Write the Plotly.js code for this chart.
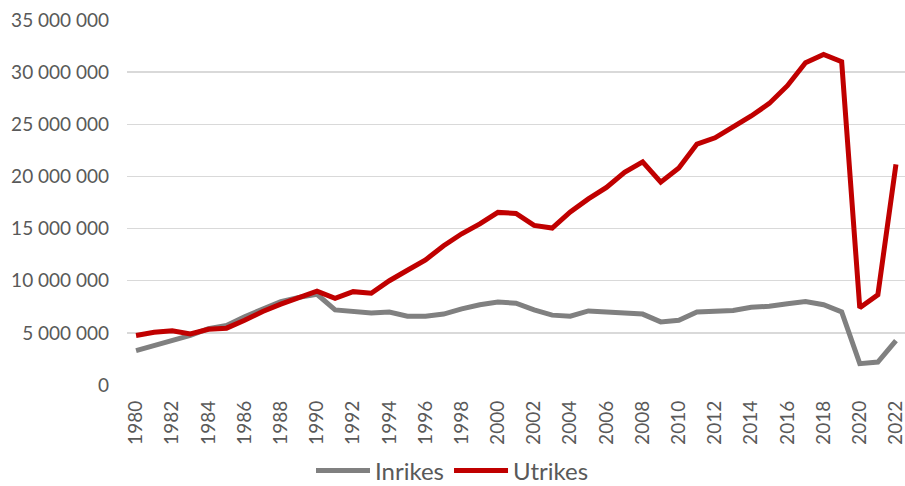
<!DOCTYPE html>
<html>
<head>
<meta charset="utf-8">
<script src="https://cdn.plot.ly/plotly-3.0.1.min.js"></script>
<style>html,body{margin:0;padding:0;background:#fff;}#chart{width:905px;height:486px;}</style>
</head>
<body>
<div id="chart"></div>
<script>
const years = [1980,1981,1982,1983,1984,1985,1986,1987,1988,1989,1990,1991,1992,1993,1994,1995,1996,1997,1998,1999,2000,2001,2002,2003,2004,2005,2006,2007,2008,2009,2010,2011,2012,2013,2014,2015,2016,2017,2018,2019,2020,2021,2022];
const inrikes = [3300000,3800000,4300000,4750000,5400000,5700000,6550000,7300000,8000000,8400000,8700000,7200000,7100000,6900000,7000000,6600000,6600000,6800000,7300000,7700000,7950000,7850000,7200000,6700000,6600000,7100000,7000000,6900000,6800000,6050000,6200000,7000000,7100000,7150000,7450000,7550000,7800000,8000000,7700000,7000000,2050000,2200000,4250000];
const utrikes = [4750000,5050000,5200000,4900000,5350000,5450000,6200000,7050000,7750000,8400000,9000000,8300000,8950000,8800000,10000000,11000000,12000000,13350000,14500000,15450000,16550000,16450000,15300000,15050000,16600000,17850000,18950000,20400000,21400000,19450000,20800000,23100000,23700000,24750000,25800000,27000000,28700000,30900000,31700000,31000000,7400000,8650000,21150000];
const seriesNames = ["Inrikes","Utrikes"];
const yTickVals = [0,5000000,10000000,15000000,20000000,25000000,30000000,35000000];
const xTickYears = years.filter(y => y % 2 === 0);

const traces = [
  {x: years, y: inrikes, name: seriesNames[0], type: 'scatter', mode: 'lines',
   line: {color: '#808080', width: 5}},
  {x: years, y: utrikes, name: seriesNames[1], type: 'scatter', mode: 'lines',
   line: {color: '#C00000', width: 5}}
];

const layout = {
  width: 905, height: 486,
  margin: {l: 127, r: 0, t: 20, b: 101},
  paper_bgcolor: '#ffffff', plot_bgcolor: '#ffffff',
  separators: ', ',
  font: {family: 'Lato, "Open Sans", sans-serif', color: '#595959', size: 19},
  showlegend: true,
  hovermode: false,
  xaxis: {
    range: [1979.5, 2022.5],
    tickmode: 'array',
    tickvals: xTickYears,
    ticktext: xTickYears.map(String),
    tickangle: -90,
    ticks: '',
    showgrid: false,
    zeroline: false,
    showline: false,
    ticklabelstandoff: 11,
    ticklabeloverflow: 'allow',
    tickfont: {size: 19, color: '#595959'}
  },
  yaxis: {
    range: [0, 35000000],
    tickmode: 'array',
    tickvals: yTickVals,
    tickformat: ',.0f',
    ticks: '',
    showgrid: true,
    gridcolor: '#D9D9D9',
    gridwidth: 1.5,
    zeroline: false,
    showline: false,
    ticklabelstandoff: 17,
    tickfont: {size: 19, color: '#595959'}
  },
  legend: {
    orientation: 'h',
    xref: 'container', yref: 'container',
    x: 0.5, xanchor: 'center',
    y: 0.031, yanchor: 'middle',
    font: {size: 24, color: '#595959'},
    itemwidth: 54,
    bgcolor: 'rgba(0,0,0,0)'
  }
};

Plotly.newPlot('chart', traces, layout, {displayModeBar: false, staticPlot: true});
</script>
</body>
</html>
